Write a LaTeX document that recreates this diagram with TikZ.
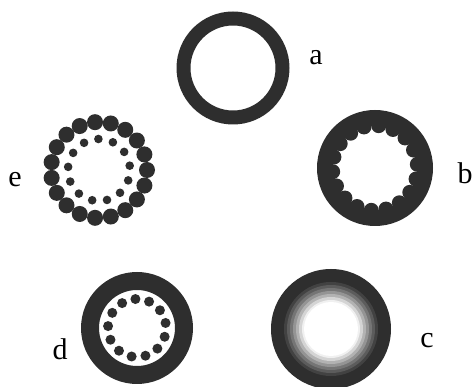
\documentclass[tikz,border=0pt]{standalone}
\usepackage{fontspec}
\setmainfont{Liberation Serif}
\begin{document}
\begin{tikzpicture}[x=1pt,y=-1pt,
  ink/.style={fill=black!82},
  lbl/.style={font=\fontsize{30}{36}\selectfont, inner sep=0pt, anchor=base}]
\useasboundingbox[fill=white] (0,0) rectangle (472,387);
% a : plain ring
\coordinate (ca) at (233,68);
\fill[ink,even odd rule] (ca) circle (56.5pt) (ca) circle (42.5pt);
\node[lbl] (la) at (316,65) {a};
% b : ring with scalloped hole
\coordinate (cb) at (375,168);
\fill[ink] (cb) circle (58pt);
\fill[white] (cb) circle (42pt);
\begin{scope}[shift={(cb)}]
  \foreach \i in {0,...,17} \fill[ink] (\i*20+5:42.5pt) circle (7.5pt);
\end{scope}
\node[lbl] (lb) at (465,184) {b};
% c : ring with graded inner edge
\coordinate (cc) at (331,329);
\foreach \r/\k in {60/82,47/74,44/64,41/54,38/42,35/30,32/17,29/6}
  \fill[black!\k] (cc) circle (\r pt);
\fill[white] (cc) circle (27pt);
\node[lbl] (lc) at (427,348) {c};
% d : ring with inner dots
\coordinate (cd) at (137,328);
\fill[ink,even odd rule] (cd) circle (56pt) (cd) circle (38pt);
\begin{scope}[shift={(cd)}]
  \foreach \i in {0,...,12} \fill[ink] (\i*27.7+10:29pt) circle (5pt);
\end{scope}
\node[lbl] (ld) at (60,360) {d};
% e : two rings of dots
\coordinate (ce) at (99,170);
\begin{scope}[shift={(ce)}]
  \foreach \i in {0,...,18} \fill[ink] (\i*18.95:48pt) circle (8pt);
  \foreach \i in {0,...,12} \fill[ink] (\i*27.7+8:31pt) circle (4.3pt);
\end{scope}
\node[lbl] (le) at (15,187) {e};
\end{tikzpicture}
\end{document}
